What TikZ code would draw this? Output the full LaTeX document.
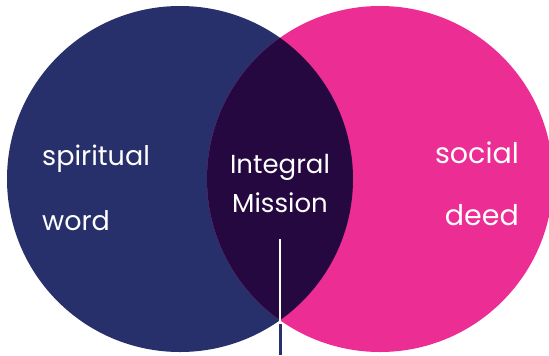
\documentclass[tikz,border=0pt]{standalone}
\usepackage{fontspec}
\setmainfont{Poppins}
\definecolor{navy}{RGB}{40,48,108}
\definecolor{pinkc}{RGB}{236,45,148}
\definecolor{plum}{RGB}{37,8,64}
\begin{document}
\begin{tikzpicture}[x=1bp,y=-1bp,
  lbl/.style={text=white,inner sep=0pt,font=\fontsize{27bp}{32bp}\selectfont},
  rlbl/.style={text=white,inner sep=0pt,font=\fontsize{28.5bp}{33bp}\selectfont},
  mid/.style={text=white,inner sep=0pt,font=\fontsize{26bp}{30bp}\selectfont}]
\useasboundingbox (0,0) rectangle (549,355);
\fill[navy] (180,179) circle[radius=173];
\fill[pinkc] (380,179) circle[radius=173];
\begin{scope}
\clip (180,179) circle[radius=173];
\fill[plum] (380,179) circle[radius=173];
\end{scope}
\node[lbl,anchor=base west] (spir) at (42,165) {spiritual};
\node[lbl,anchor=base west] (word) at (42,230) {word};
\node[rlbl,anchor=base east] (soc) at (519,163) {social};
\node[rlbl,anchor=base east] (deed) at (519,225) {deed};
\node[mid,anchor=base] (integ) at (280,173) {Integral};
\node[mid,anchor=base] (miss) at (280,212) {Mission};
\coordinate (wtop) at (280,239);
\coordinate (wbot) at (280,321);
\coordinate (btop) at (280,324);
\coordinate (bbot) at (280,355);
\draw[white,line width=2.5bp] (wtop) -- (wbot);
\draw[navy,line width=3bp] (btop) -- (bbot);
\end{tikzpicture}
\end{document}
